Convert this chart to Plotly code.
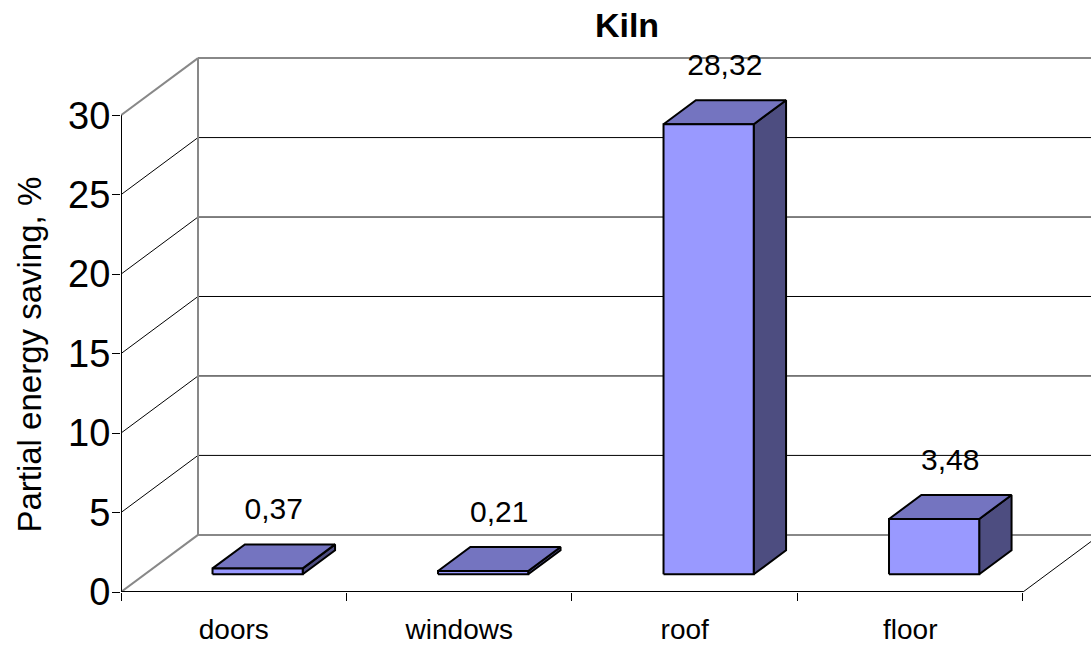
import plotly.graph_objects as go

# ---- data -------------------------------------------------------------
categories = ["doors", "windows", "roof", "floor"]
savings = [0.37, 0.21, 28.32, 3.48]
value_labels = ["0,37", "0,21", "28,32", "3,48"]
y_ticks = [0, 5, 10, 15, 20, 25, 30]

# ---- styling ----------------------------------------------------------
FONT = "Liberation Sans, Arial, sans-serif"
FRONT = "#9999FF"
TOP = "#7474C0"
SIDE = "#4D4D80"
WALL = "#888888"

# oblique projection of the 3-D box: depth 0 = front plane, 1 = back wall
DEPTH_DX = 0.3415   # category units per unit of depth
DEPTH_DY = 3.594    # value units per unit of depth
BAR_W = 0.40
BAR_D0, BAR_D1 = 0.31, 0.73
X_MIN, X_MAX = -0.5, 3.8016
Y_MIN, Y_MAX = 0.0, 37.25
V_TOP = max(y_ticks)
X_LEFT, X_RIGHT = -0.5, len(categories) - 0.5


def proj(x, y, d):
    return x + d * DEPTH_DX, y + d * DEPTH_DY


def segs(points):
    """points: list of ((x,y,d),(x,y,d)) segments -> xs, ys with gaps."""
    xs, ys = [], []
    for a, b in points:
        for p in (a, b):
            px, py = proj(*p)
            xs.append(px)
            ys.append(py)
        xs.append(None)
        ys.append(None)
    return xs, ys


def poly(points):
    xs, ys = [], []
    for p in points + [points[0]]:
        px, py = proj(*p)
        xs.append(px)
        ys.append(py)
    return xs, ys


fig = go.Figure()

# thin gridlines on the side and back walls
grid = []
for v in y_ticks[1:-1]:
    grid.append(((X_LEFT, v, 0), (X_LEFT, v, 1)))
    grid.append(((X_LEFT, v, 1), (X_RIGHT + 2, v, 1)))
gx, gy = segs(grid)
fig.add_trace(go.Scatter(x=gx, y=gy, mode="lines",
                         line=dict(color="black", width=1), hoverinfo="skip"))

# grey wall edges
edges = [
    ((X_LEFT, V_TOP, 0), (X_LEFT, V_TOP, 1)),
    ((X_LEFT, V_TOP, 1), (X_RIGHT + 2, V_TOP, 1)),
    ((X_LEFT, 0, 1), (X_LEFT, V_TOP, 1)),
    ((X_LEFT, 0, 0), (X_LEFT, 0, 1)),
    ((X_LEFT, 0, 1), (X_RIGHT + 2, 0, 1)),
]
ex, ey = segs(edges)
fig.add_trace(go.Scatter(x=ex, y=ey, mode="lines",
                         line=dict(color=WALL, width=2), hoverinfo="skip"))

# front value axis and floor front edge
fx, fy = segs([((X_LEFT, 0, 0), (X_LEFT, V_TOP, 0)),
               ((X_LEFT, 0, 0), (X_RIGHT, 0, 0))])
fig.add_trace(go.Scatter(x=fx, y=fy, mode="lines",
                         line=dict(color="black", width=2), hoverinfo="skip"))
rx, ry = segs([((X_RIGHT, 0, 0), (X_RIGHT, 0, 1.3))])
fig.add_trace(go.Scatter(x=rx, y=ry, mode="lines",
                         line=dict(color="black", width=1), hoverinfo="skip"))

# 3-D bars: front, top and right-side faces
for i, v in enumerate(savings):
    x0, x1 = i - BAR_W / 2, i + BAR_W / 2
    faces = [
        ([(x1, 0, BAR_D0), (x1, 0, BAR_D1), (x1, v, BAR_D1), (x1, v, BAR_D0)], SIDE),
        ([(x0, v, BAR_D0), (x1, v, BAR_D0), (x1, v, BAR_D1), (x0, v, BAR_D1)], TOP),
        ([(x0, 0, BAR_D0), (x1, 0, BAR_D0), (x1, v, BAR_D0), (x0, v, BAR_D0)], FRONT),
    ]
    for pts, col in faces:
        px, py = poly(pts)
        fig.add_trace(go.Scatter(x=px, y=py, mode="lines", fill="toself",
                                 fillcolor=col,
                                 line=dict(color="black", width=2),
                                 hoverinfo="skip"))

# value labels above each bar
lab_x, lab_y = [], []
mid_d = (BAR_D0 + BAR_D1) / 2
for i, v in enumerate(savings):
    px, py = proj(i, v, mid_d)
    lab_x.append(px)
    lab_y.append(py + 2.8)
fig.add_trace(go.Scatter(x=lab_x, y=lab_y, mode="text", text=value_labels,
                         textposition="middle center",
                         textfont=dict(family=FONT, size=30, color="black"),
                         hoverinfo="skip", cliponaxis=False))

fig.update_layout(
    width=1091, height=645,
    margin=dict(l=121, r=0, t=0, b=49),
    plot_bgcolor="white", paper_bgcolor="white",
    showlegend=False,
    font=dict(family=FONT, color="black"),
    title=dict(text="<b>Kiln</b>", x=627 / 1091, xref="container",
               xanchor="center", y=1 - 25 / 645, yref="container",
               yanchor="middle", font=dict(family=FONT, size=34, color="black")),
    xaxis=dict(range=[X_MIN, X_MAX], tickmode="array",
               tickvals=list(range(len(categories))), ticktext=categories,
               ticks="outside", ticklen=12, tickcolor="rgba(0,0,0,0)",
               tickfont=dict(family=FONT, size=28, color="black"),
               showgrid=False, zeroline=False, showline=False,
               minor=dict(tickmode="array",
                          tickvals=[k - 0.5 for k in range(len(categories) + 1)],
                          ticks="outside", ticklen=8, tickwidth=1,
                          tickcolor="black", showgrid=False)),
    yaxis=dict(range=[Y_MIN, Y_MAX], tickmode="array", tickvals=y_ticks,
               ticks="outside", ticklen=8, tickwidth=1, tickcolor="black",
               ticklabelstandoff=-6,
               tickfont=dict(family=FONT, size=38, color="black"),
               showgrid=False, zeroline=False, showline=False),
    annotations=[dict(text="Partial energy saving, %", textangle=-90,
                      xref="paper", yref="paper",
                      x=(30 - 121) / 970, y=(596 - 357) / 596,
                      xanchor="center", yanchor="middle", showarrow=False,
                      font=dict(family=FONT, size=33, color="black"))],
)

fig.write_html("out.html")
